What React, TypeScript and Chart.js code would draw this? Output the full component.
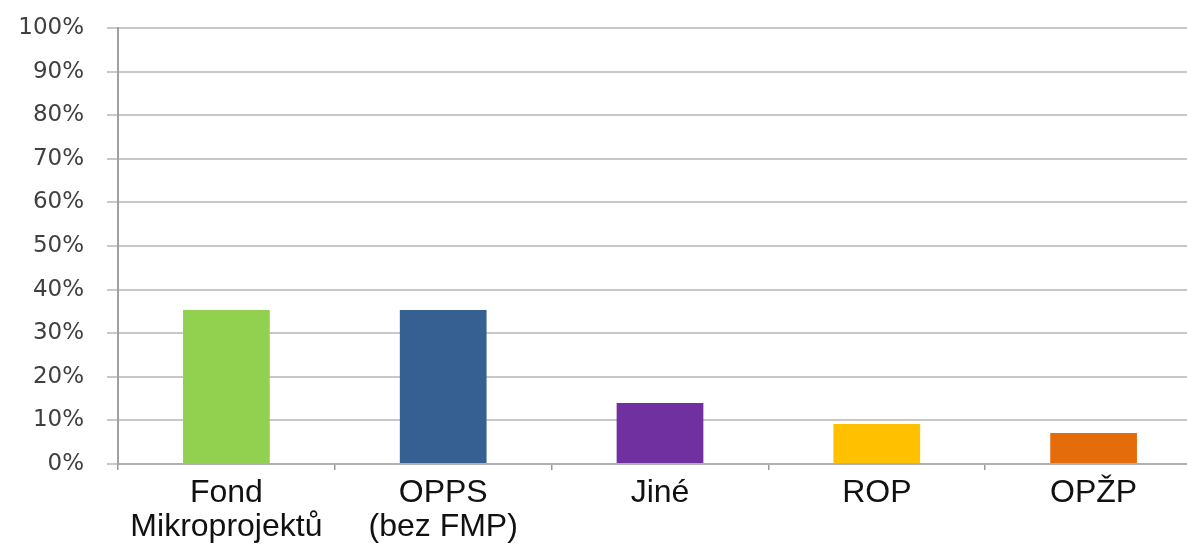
import React, { useEffect, useRef } from "react";
import { Chart, registerables } from "chart.js";

Chart.register(...registerables);

const categories: (string | string[])[] = [
  ["Fond", "Mikroprojektů"],
  ["OPPS", "(bez FMP)"],
  "Jiné",
  "ROP",
  "OPŽP",
];
const values = [35.3, 35.3, 14.0, 9.2, 7.1];
const barColors = ["#92D050", "#376092", "#7030A0", "#FFC000", "#E46C0A"];
const yTicks = [0, 10, 20, 30, 40, 50, 60, 70, 80, 90, 100];

export default function App() {
  const ref = useRef<HTMLCanvasElement | null>(null);
  useEffect(() => {
    document.body.style.margin = "0";
    document.body.style.overflow = "hidden";
    const chart = new Chart(ref.current!, {
      type: "bar",
      data: {
        labels: categories,
        datasets: [
          {
            data: values,
            backgroundColor: barColors,
            borderWidth: 0,
            categoryPercentage: 1,
            barPercentage: 0.4,
          },
        ],
      },
      options: {
        animation: false,
        responsive: false,
        maintainAspectRatio: false,
        layout: { padding: { top: 28, left: 0, right: 0, bottom: 0 } },
        plugins: { legend: { display: false }, tooltip: { enabled: false } },
        scales: {
          x: {
            offset: true,
            afterFit: (s: any) => {
              s.height = 83;
              s.paddingLeft = 0;
              s.paddingRight = 0;
            },
            grid: {
              offset: true,
              drawOnChartArea: false,
              drawTicks: true,
              tickLength: 6,
              color: "#999999",
              lineWidth: 1.5,
            },
            border: { display: true, color: "#b0b0b0", width: 2 },
            ticks: {
              padding: 6,
              color: "#111111",
              font: { family: "'Liberation Sans', Arial, sans-serif", size: 32, lineHeight: 1.07 },
              maxRotation: 0,
              autoSkip: false,
            },
          },
          y: {
            min: 0,
            max: 100,
            afterFit: (s: any) => {
              s.width = 118;
              s.paddingTop = 0;
              s.paddingBottom = 0;
            },
            afterBuildTicks: (s: any) => {
              s.ticks = yTicks.map((v) => ({ value: v }));
            },
            grid: {
              color: "#c8c8c8",
              lineWidth: 2,
              tickLength: 11,
              drawTicks: true,
            },
            border: { display: true, color: "#a0a0a0", width: 2 },
            ticks: {
              stepSize: 10,
              padding: 23,
              color: "#404040",
              font: { family: "'DejaVu Sans', Verdana, sans-serif", size: 23 },
              callback: (v: any) => v + "%",
            },
          },
        },
      },
    });
    return () => chart.destroy();
  }, []);
  return (
    <div style={{ position: "absolute", left: 0, top: 0, width: 1187, height: 547, overflow: "hidden", background: "#fff" }}>
      <canvas ref={ref} width={1202} height={547} style={{ width: 1202, height: 547 }} />
    </div>
  );
}
